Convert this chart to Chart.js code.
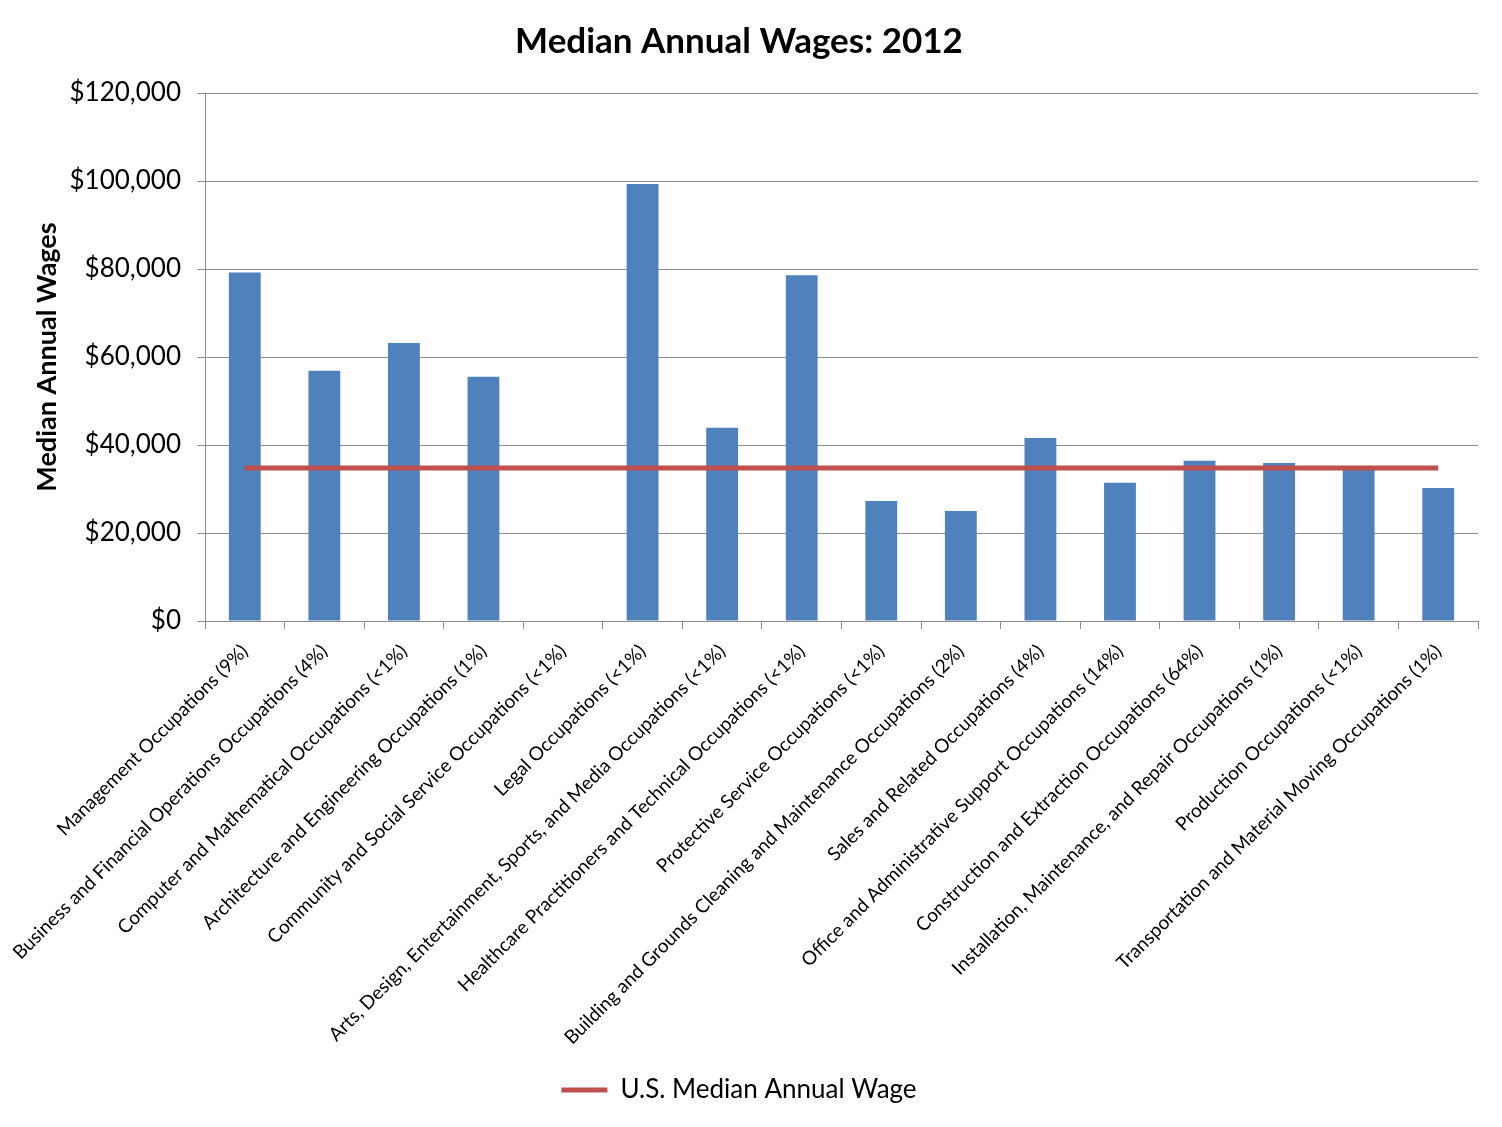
<!DOCTYPE html>
<html>
<head>
<meta charset="utf-8">
<script src="https://cdn.jsdelivr.net/npm/chart.js@4.4.1/dist/chart.umd.min.js"></script>
<style>
  html, body { margin: 0; padding: 0; background: #ffffff; }
  #wrap { width: 1502px; height: 1127px; position: relative; }
</style>
</head>
<body>
<div id="wrap"><canvas id="c"></canvas></div>
<script>
const categories = [
  "Management Occupations (9%)",
  "Business and Financial Operations Occupations (4%)",
  "Computer and Mathematical Occupations (<1%)",
  "Architecture and Engineering Occupations (1%)",
  "Community and Social Service Occupations (<1%)",
  "Legal Occupations (<1%)",
  "Arts, Design, Entertainment, Sports, and Media Occupations (<1%)",
  "Healthcare Practitioners and Technical Occupations (<1%)",
  "Protective Service Occupations (<1%)",
  "Building and Grounds Cleaning and Maintenance Occupations (2%)",
  "Sales and Related Occupations (4%)",
  "Office and Administrative Support Occupations (14%)",
  "Construction and Extraction Occupations (64%)",
  "Installation, Maintenance, and Repair Occupations (1%)",
  "Production Occupations (<1%)",
  "Transportation and Material Moving Occupations (1%)"
];
const medianWages = [79200, 56900, 63200, 55500, null, 99300, 43900, 78600, 27300, 25000, 41600, 31400, 36400, 35900, 34700, 30200];
const usMedianWage = [34750, 34750, 34750, 34750, 34750, 34750, 34750, 34750, 34750, 34750, 34750, 34750, 34750, 34750, 34750, 34750];
const yTicks = [0, 20000, 40000, 60000, 80000, 100000, 120000];

const FONT = "Lato, 'Open Sans', 'DejaVu Sans', sans-serif";
const GRID = "#8c8c8c";

new Chart(document.getElementById('c'), {
  data: {
    labels: categories,
    datasets: [
      {
        type: 'line',
        label: 'U.S. Median Annual Wage',
        data: usMedianWage,
        borderColor: '#C0504D',
        backgroundColor: '#C0504D',
        borderWidth: 5,
        pointRadius: 0,
        pointHoverRadius: 0,
        pointStyle: 'line',
        tension: 0,
        order: 0
      },
      {
        type: 'bar',
        label: 'Median Annual Wages',
        data: medianWages,
        backgroundColor: '#4F81BD',
        borderWidth: 0,
        categoryPercentage: 1.0,
        barPercentage: 0.4,
        order: 1
      }
    ]
  },
  options: {
    responsive: true,
    maintainAspectRatio: false,
    animation: false,
    layout: { padding: { left: 0, right: 24, top: 0, bottom: 14 } },
    plugins: {
      title: {
        display: true,
        text: 'Median Annual Wages: 2012',
        color: '#000',
        font: { family: FONT, size: 35, weight: 'bold' },
        padding: { top: 21, bottom: 30 }
      },
      legend: {
        display: true,
        position: 'bottom',
        labels: {
          filter: (item) => item.datasetIndex === 0,
          usePointStyle: true,
          pointStyle: 'line',
          pointStyleWidth: 46,
          color: '#000',
          font: { family: FONT, size: 26 },
          padding: 10
        }
      },
      tooltip: { enabled: false }
    },
    scales: {
      x: {
        type: 'category',
        offset: true,
        grid: {
          display: true,
          offset: true,
          drawOnChartArea: false,
          drawTicks: true,
          tickLength: 8,
          color: GRID
        },
        border: { display: true, color: GRID, width: 1 },
        ticks: {
          autoSkip: false,
          maxRotation: 45,
          minRotation: 45,
          padding: 11,
          color: '#000',
          font: { family: FONT, size: 19 }
        },
        afterFit: (scale) => { scale.height = 446; }
      },
      y: {
        type: 'linear',
        min: 0,
        max: 120000,
        afterBuildTicks: (scale) => { scale.ticks = yTicks.map(v => ({ value: v })); },
        grid: {
          color: GRID,
          tickLength: 8,
          drawTicks: true
        },
        border: { display: true, color: GRID, width: 1 },
        ticks: {
          padding: 16,
          color: '#000',
          font: { family: FONT, size: 26 },
          callback: (v) => '$' + Number(v).toLocaleString('en-US')
        },
        title: {
          display: true,
          text: 'Median Annual Wages',
          color: '#000',
          font: { family: FONT, size: 27, weight: 'bold' },
          padding: { top: 31, bottom: 0 }
        },
        afterFit: (scale) => { scale.width = 205; }
      }
    }
  }
});
</script>
</body>
</html>
